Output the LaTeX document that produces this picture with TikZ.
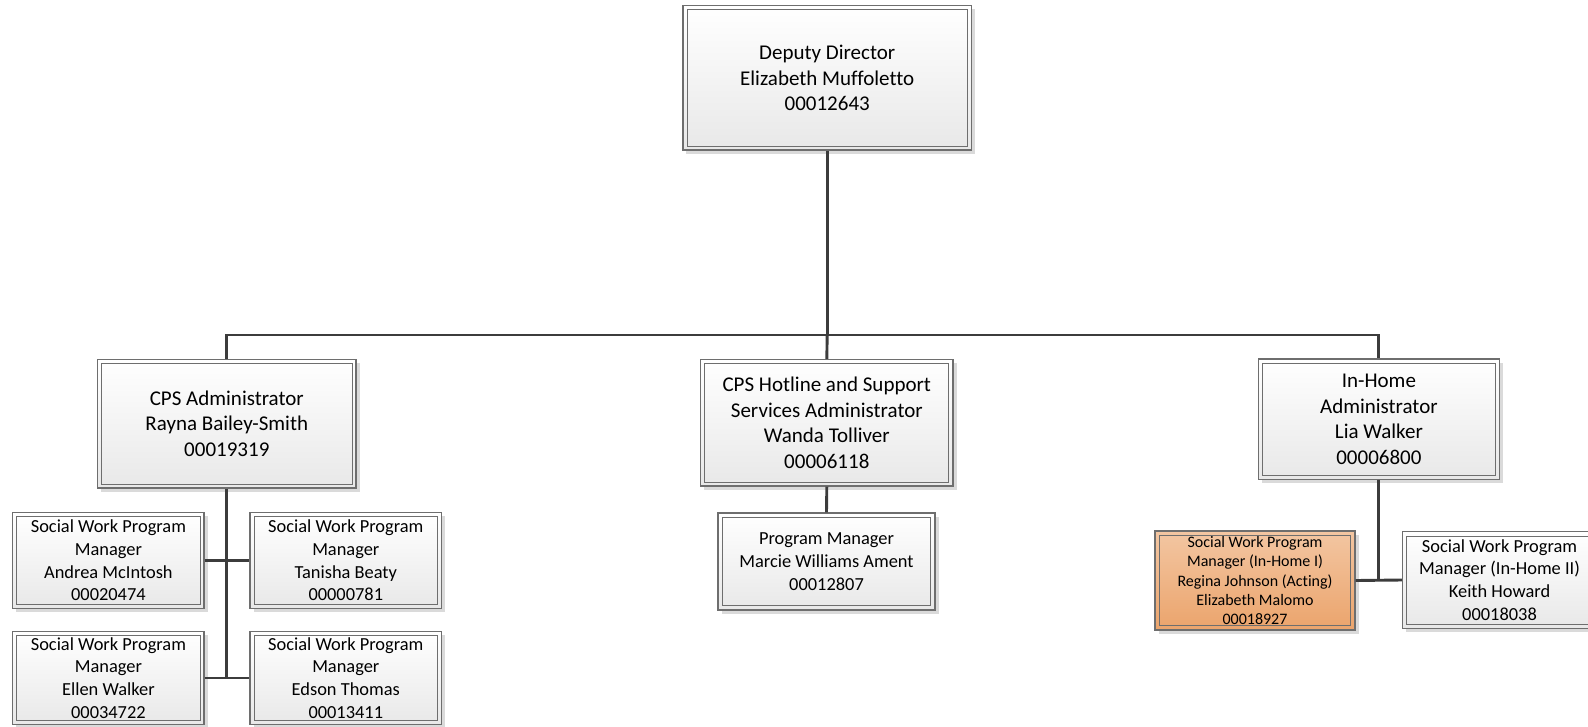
\documentclass[tikz,border=0pt]{standalone}
\usepackage{fontspec}
\setmainfont{Carlito}[Ligatures=NoCommon]
\usetikzlibrary{shadows}

\definecolor{boxline}{HTML}{6E6E6E}
\definecolor{connline}{HTML}{3C3C3C}
\definecolor{boxbottom}{HTML}{E8E8E8}
\definecolor{orangetop}{HTML}{F3C6A2}
\definecolor{orangebot}{HTML}{EBA46C}
\definecolor{shadowgray}{HTML}{DADADA}

\newcommand\bigtxt{\fontsize{21}{25.5}\selectfont}
\newcommand\midtxt{\fontsize{18.4}{22.7}\selectfont}
\newcommand\smalltxt{\fontsize{16}{19.4}\selectfont}

\tikzset{
  orgbox/.style={draw=boxline, line width=1.2pt, inner sep=0pt, align=center,
    top color=white, bottom color=boxbottom,
    drop shadow={shadow xshift=3.5pt, shadow yshift=-3.5pt, fill=shadowgray, opacity=1}},
  orangebox/.style={orgbox, top color=orangetop, bottom color=orangebot},
  innerline/.style={draw=boxline, line width=0.9pt},
  conn/.style={draw=connline, line width=2.9pt}
}

\begin{document}
\begin{tikzpicture}[x=1pt,y=-1pt]
    \useasboundingbox (0,0) rectangle (1588,726);
    \clip (0,0) rectangle (1588,726);

    %Director
    \node[orgbox, minimum width=288.5pt, minimum height=144.3pt, font=\bigtxt] (deputy) at (827.2,77.9)
        {Deputy Director\\Elizabeth Muffoletto\\00012643};

    %Administradores
    \node[orgbox, minimum width=258.5pt, minimum height=128.7pt, font=\bigtxt] (cpsadm) at (226.8,423.7)
        {CPS Administrator\\Rayna Bailey-Smith\\00019319};
    \node[orgbox, minimum width=252.4pt, minimum height=126.5pt, font=\bigtxt] (hotline) at (826.8,422.8)
        {CPS Hotline and Support\\Services Administrator\\Wanda Tolliver\\00006118};
    \node[orgbox, minimum width=240.8pt, minimum height=120.5pt, font=\bigtxt] (inhome) at (1378.9,419.3)
        {In-Home\\Administrator\\Lia Walker\\00006800};

    %Program managers CPS
    \node[orgbox, minimum width=191.3pt, minimum height=95.6pt, font=\midtxt] (mcintosh) at (108.4,560.5)
        {Social Work Program\\Manager\\Andrea McIntosh\\00020474};
    \node[orgbox, minimum width=191.5pt, minimum height=95.6pt, font=\midtxt] (beaty) at (345.8,560.5)
        {Social Work Program\\Manager\\Tanisha Beaty\\00000781};
    \node[orgbox, minimum width=191.3pt, minimum height=93pt, font=\midtxt] (ewalker) at (108.4,678)
        {Social Work Program\\Manager\\Ellen Walker\\00034722};
    \node[orgbox, minimum width=191.5pt, minimum height=93pt, font=\midtxt] (ethomas) at (345.8,678)
        {Social Work Program\\Manager\\Edson Thomas\\00013411};

    %Program manager hotline
    \node[orgbox, minimum width=217pt, minimum height=97pt, font=\midtxt] (ament) at (826.5,561.5)
        {Program Manager\\Marcie Williams Ament\\00012807};

    %Program managers in-home
    \node[orangebox, minimum width=200pt, minimum height=99pt, font=\smalltxt] (inhomei) at (1255,580.5)
        {Social Work Program\\Manager (In-Home I)\\Regina Johnson (Acting)\\Elizabeth Malomo\\00018927};
    \node[orgbox, minimum width=194pt, minimum height=96.3pt, font=\midtxt] (inhomeii) at (1499.5,580)
        {Social Work Program\\Manager (In-Home II)\\Keith Howard\\00018038};

    %Marco interior
    \foreach \n in {deputy,cpsadm,hotline,inhome,mcintosh,beaty,ewalker,ethomas,ament,inhomei,inhomeii}
        \draw[innerline] ([shift={(4.7pt,-4.7pt)}]\n.north west) rectangle ([shift={(-4.7pt,4.7pt)}]\n.south east);

    %Lineas
    \coordinate (bus) at (827.2,335);
    \draw[conn] (deputy.south) -- (bus);
    \draw[conn] (cpsadm.north) |- (bus) -| (inhome.north);
    \draw[conn] (bus) -- (hotline.north);
    \draw[conn] (cpsadm.south) -- (cpsadm.south |- ewalker.east);
    \draw[conn] (mcintosh.east) -- (beaty.west);
    \draw[conn] (ewalker.east) -- (ethomas.west);
    \draw[conn] (hotline.south) -- (ament.north);
    \draw[conn] (inhome.south) -- (inhome.south |- inhomei.east);
    \draw[conn] (inhomei.east) -- (inhomeii.west);
\end{tikzpicture}
\end{document}
